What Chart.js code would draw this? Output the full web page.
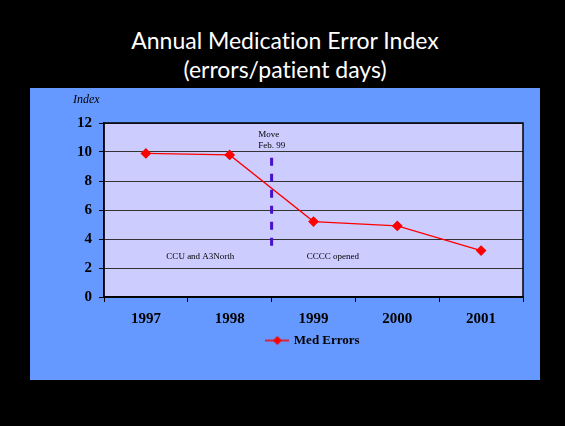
<!DOCTYPE html>
<html>
<head>
<meta charset="utf-8">
<script src="https://cdn.jsdelivr.net/npm/chart.js@4.4.1/dist/chart.umd.min.js"></script>
<style>
  html, body { margin: 0; padding: 0; background: #000; width: 565px; height: 426px; overflow: hidden; }
  #title {
    position: absolute; left: 0; top: 26px; width: 570px;
    text-align: center; color: #fff;
    font-family: Lato, "Open Sans", sans-serif; font-size: 23px; line-height: 29px;
    font-variant-ligatures: none; font-feature-settings: "liga" 0;
  }
  #panel { position: absolute; left: 30px; top: 88px; width: 510px; height: 292px; background: #6699ff; }
</style>
</head>
<body>
<div id="title">Annual Medication Error Index<br>(errors/patient days)</div>
<div id="panel"><canvas id="errChart" width="510" height="292"></canvas></div>
<script>
const years = ['1997', '1998', '1999', '2000', '2001'];
const medErrors = [9.9, 9.8, 5.2, 4.9, 3.2];
const yMin = 0, yMax = 12, yStep = 2;

const serif = '"Liberation Serif", "Times New Roman", serif';
const red = '#ff0000';

// little line-and-diamond swatch for the legend
function legendSwatch() {
  const c = document.createElement('canvas');
  c.width = 24; c.height = 12;
  const g = c.getContext('2d');
  g.strokeStyle = red; g.lineWidth = 1.5;
  g.beginPath(); g.moveTo(0, 6); g.lineTo(24, 6); g.stroke();
  g.fillStyle = red;
  g.beginPath(); g.moveTo(12, 1.5); g.lineTo(16.5, 6); g.lineTo(12, 10.5); g.lineTo(7.5, 6); g.closePath(); g.fill();
  return c;
}

const plotBg = {
  id: 'plotBg',
  beforeDraw(chart) {
    const { ctx, chartArea: a } = chart;
    ctx.save();
    ctx.fillStyle = '#ccccff';
    ctx.fillRect(a.left, a.top, a.right - a.left, a.bottom - a.top);
    ctx.restore();
  }
};

// plot frame, the Feb. 99 move marker and the text notes
const notes = {
  id: 'notes',
  afterDraw(chart) {
    const { ctx, chartArea: a, scales: { x, y } } = chart;
    ctx.save();
    ctx.strokeStyle = '#000'; ctx.lineWidth = 1.5;
    ctx.strokeRect(a.left, a.top, a.right - a.left, a.bottom - a.top);

    const mx = x.getPixelForValue(1.5);
    ctx.strokeStyle = '#4411cc'; ctx.lineWidth = 3;
    ctx.setLineDash([8, 8]);
    ctx.beginPath(); ctx.moveTo(mx, y.getPixelForValue(9.6)); ctx.lineTo(mx, y.getPixelForValue(3.4)); ctx.stroke();
    ctx.setLineDash([]);

    ctx.fillStyle = '#000';
    ctx.font = '9px ' + serif;
    ctx.textBaseline = 'middle';
    ctx.textAlign = 'left';
    ctx.fillText('Move', x.getPixelForValue(1.34), y.getPixelForValue(11.2));
    ctx.fillText('Feb. 99', x.getPixelForValue(1.34), y.getPixelForValue(10.45));
    ctx.textAlign = 'center';
    ctx.fillText('CCU and A3North', x.getPixelForValue(0.65), y.getPixelForValue(2.8));
    ctx.fillText('CCCC opened', x.getPixelForValue(2.23), y.getPixelForValue(2.8));

    ctx.font = 'italic 12px ' + serif;
    ctx.textAlign = 'left';
    ctx.fillText('Index', 43, 12);
    ctx.restore();
  }
};

new Chart(document.getElementById('errChart'), {
  type: 'line',
  data: {
    labels: years,
    datasets: [{
      label: 'Med Errors',
      data: medErrors,
      borderColor: red,
      backgroundColor: red,
      borderWidth: 1.3,
      pointStyle: 'rectRot',
      pointRadius: 4.5,
      pointBackgroundColor: red,
      pointBorderColor: red,
      tension: 0
    }]
  },
  options: {
    responsive: false,
    animation: false,
    devicePixelRatio: 1,
    layout: { padding: { top: 35, right: 17, bottom: 23, left: 0 } },
    plugins: {
      tooltip: { enabled: false },
      legend: {
        position: 'bottom',
        fullSize: false,
        labels: {
          usePointStyle: true,
          pointStyleWidth: 20,
          padding: 10,
          color: '#000',
          font: { family: serif, size: 13, weight: 'bold' },
          generateLabels(chart) {
            return chart.data.datasets.map((ds, i) => ({
              text: ds.label,
              pointStyle: legendSwatch(),
              fillStyle: red,
              strokeStyle: red,
              lineWidth: 0,
              datasetIndex: i
            }));
          }
        }
      }
    },
    scales: {
      x: {
        offset: true,
        afterFit(scale) { scale.height = 27; },
        grid: { offset: true, drawOnChartArea: false, drawTicks: true, tickLength: 5, color: '#000' },
        border: { color: '#000', width: 1.5 },
        ticks: { color: '#000', padding: 8, font: { family: serif, size: 15, weight: 'bold' } }
      },
      y: {
        min: yMin,
        max: yMax,
        afterFit(scale) { scale.width = 74; },
        grid: { color: '#333', lineWidth: 1, tickLength: 5, tickColor: '#000' },
        border: { color: '#000', width: 1.5 },
        ticks: { stepSize: yStep, color: '#000', padding: 7, font: { family: serif, size: 15, weight: 'bold' } }
      }
    }
  },
  plugins: [plotBg, notes]
});
</script>
</body>
</html>
